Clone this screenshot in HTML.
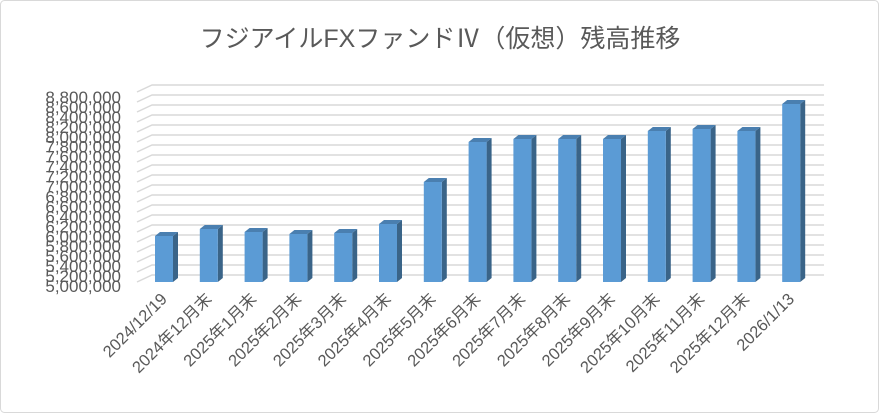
<!DOCTYPE html>
<html><head><meta charset="utf-8"><style>
html,body{margin:0;padding:0;background:#fff;}
svg{display:block;font-family:"Liberation Sans","Noto Sans CJK JP",sans-serif;}
</style></head><body>
<svg width="879" height="413" viewBox="0 0 879 413" xmlns="http://www.w3.org/2000/svg">
<rect x="0.5" y="0.5" width="878" height="412" rx="4" fill="#fff" stroke="#d9d9d9"/>
<text x="440" y="47" text-anchor="middle" font-size="25" fill="#595959">フジアイルFXファンドⅣ（仮想）残高推移</text>
<g id="grid" stroke="#d9d9d9" stroke-width="1.5" fill="none"></g>
<g id="ylab" font-size="17" fill="#595959" text-anchor="end"></g>
<g id="bars"></g>
<g id="xlab" font-size="16.5" fill="#595959" text-anchor="end"></g>
<script>
var ns="http://www.w3.org/2000/svg";
function el(p,t,a,txt){var e=document.createElementNS(ns,t);for(var k in a)e.setAttribute(k,a[k]);if(txt)e.textContent=txt;p.appendChild(e);return e;}
var g=document.getElementById('grid'),yl=document.getElementById('ylab');
for(var i=0;i<=19;i++){var y=275-i*10;
el(g,'polyline',{points:'137,'+(y+7)+' 152,'+y+' 824,'+y});
var v=5000000+i*200000;
el(yl,'text',{x:121,y:(292-i*9.95).toFixed(1)},v.toLocaleString('en-US'));}
var tops=[236,229,232,234,233,224,182,142,139,139,139,131,129,131,104];
var labs=['2024/12/19','2024年12月末','2025年1月末','2025年2月末','2025年3月末','2025年4月末','2025年5月末','2025年6月末','2025年7月末','2025年8月末','2025年9月末','2025年10月末','2025年11月末','2025年12月末','2026/1/13'];
var b=document.getElementById('bars'),xl=document.getElementById('xlab');
for(var j=0;j<15;j++){var x=155+j*44.8,t=tops[j],bot=282;
el(b,'polygon',{points:(x+18)+','+t+' '+(x+23)+','+(t-4)+' '+(x+23)+','+(bot-4)+' '+(x+18)+','+bot,fill:'#3a6488'});
el(b,'polygon',{points:x+','+t+' '+(x+18)+','+t+' '+(x+23)+','+(t-4)+' '+(x+5)+','+(t-4),fill:'#4a7fb0'});
el(b,'rect',{x:x,y:t,width:18,height:bot-t,fill:'#5b9bd5'});
var ax=x+13,ay=300;
el(xl,'text',{x:ax,y:ay,transform:'rotate(-45 '+ax+' '+ay+')'},labs[j]);}
</script>
</svg>
</body></html>
